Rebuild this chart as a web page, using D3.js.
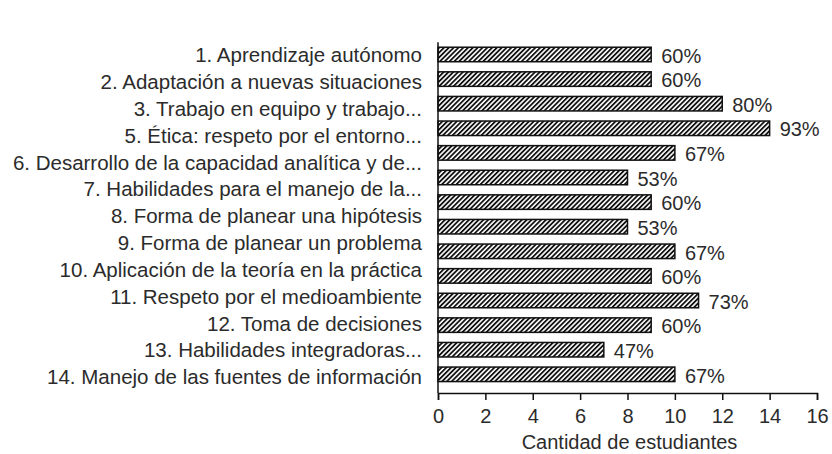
<!DOCTYPE html>
<html lang="es">
<head>
<meta charset="UTF-8">
<title>Competencias</title>
<script src="https://d3js.org/d3.v7.min.js"></script>
<style>
  body { margin: 0; background: #fff; }
  text { font-family: "Liberation Sans", Arial, sans-serif; fill: #2b2b2b; }
</style>
</head>
<body>
<svg id="chart" width="832" height="454"></svg>
<script>
// 13 row labels as printed (there is no "4."), spread over the same height as the 14 bars
const categories = [
  "1. Aprendizaje autónomo",
  "2. Adaptación a nuevas situaciones",
  "3. Trabajo en equipo y trabajo...",
  "5. Ética: respeto por el entorno...",
  "6. Desarrollo de la capacidad analítica y de...",
  "7. Habilidades para el manejo de la...",
  "8. Forma de planear una hipótesis",
  "9. Forma de planear un problema",
  "10. Aplicación de la teoría en la práctica",
  "11. Respeto por el medioambiente",
  "12. Toma de decisiones",
  "13. Habilidades integradoras...",
  "14. Manejo de las fuentes de información"
];
const counts = [9, 9, 12, 14, 10, 8, 9, 8, 10, 9, 11, 9, 7, 10];
const percents = ["60%", "60%", "80%", "93%", "67%", "53%", "60%", "53%", "67%", "60%", "73%", "60%", "47%", "67%"];
const xTicks = [0, 2, 4, 6, 8, 10, 12, 14, 16];

const svg = d3.select("#chart");
const m = {left: 438, right: 817, top: 42.3, bottom: 386.5, axisY: 393};

const x = d3.scaleLinear().domain([0, 16]).range([m.left, m.right]);
const y = d3.scaleBand()
    .domain(d3.range(counts.length))
    .range([m.top, m.bottom])
    .paddingInner(0.41)
    .paddingOuter(0.2);

// labels sit on their own evenly spaced rows
const yLabel = d3.scalePoint()
    .domain(d3.range(categories.length))
    .range([y(0) + y.bandwidth() / 2 + 0.5, y(counts.length - 1) + y.bandwidth() / 2 + 2.5]);

// hatch pattern
svg.append("defs").append("pattern")
    .attr("id", "hatch")
    .attr("patternUnits", "userSpaceOnUse")
    .attr("width", 3.4)
    .attr("height", 10)
    .attr("patternTransform", "rotate(45)")
  .call(p => {
      p.append("rect").attr("width", 3.4).attr("height", 10).attr("fill", "#fff");
      p.append("rect").attr("width", 1.8).attr("height", 10).attr("fill", "#111");
  });

// bars
svg.selectAll("rect.bar")
    .data(counts)
    .join("rect")
    .attr("class", "bar")
    .attr("x", x(0))
    .attr("y", (d, i) => y(i))
    .attr("width", d => x(d) - x(0))
    .attr("height", y.bandwidth())
    .attr("fill", "url(#hatch)")
    .attr("stroke", "#111")
    .attr("stroke-width", 1.5);

// value labels
svg.selectAll("text.val")
    .data(counts)
    .join("text")
    .attr("class", "val")
    .attr("x", d => x(d) + 10)
    .attr("y", (d, i) => y(i) + y.bandwidth() / 2 + 1)
    .attr("dy", "0.36em")
    .attr("font-size", 20)
    .text((d, i) => percents[i]);

// category labels
svg.selectAll("text.cat")
    .data(categories)
    .join("text")
    .attr("class", "cat")
    .attr("x", 422)
    .attr("y", (d, i) => yLabel(i))
    .attr("dy", "0.36em")
    .attr("text-anchor", "end")
    .attr("font-size", 20.5)
    .text(d => d);

// left axis line
svg.append("line")
    .attr("x1", m.left).attr("x2", m.left)
    .attr("y1", m.top).attr("y2", m.axisY)
    .attr("stroke", "#111").attr("stroke-width", 1.5);

// bottom axis
const xAxis = svg.append("g")
    .attr("transform", `translate(0,${m.axisY})`)
    .call(d3.axisBottom(x).tickValues(xTicks).tickSizeOuter(0).tickSize(7).tickPadding(9));
xAxis.selectAll("path, line").attr("stroke", "#111").attr("stroke-width", 1.5);
xAxis.selectAll("text")
    .attr("font-family", "\"Liberation Sans\", Arial, sans-serif")
    .attr("font-size", 20)
    .attr("fill", "#2b2b2b");

svg.append("text")
    .attr("x", (m.left + m.right) / 2 + 2)
    .attr("y", 449)
    .attr("text-anchor", "middle")
    .attr("font-size", 20)
    .text("Cantidad de estudiantes");
</script>
</body>
</html>
